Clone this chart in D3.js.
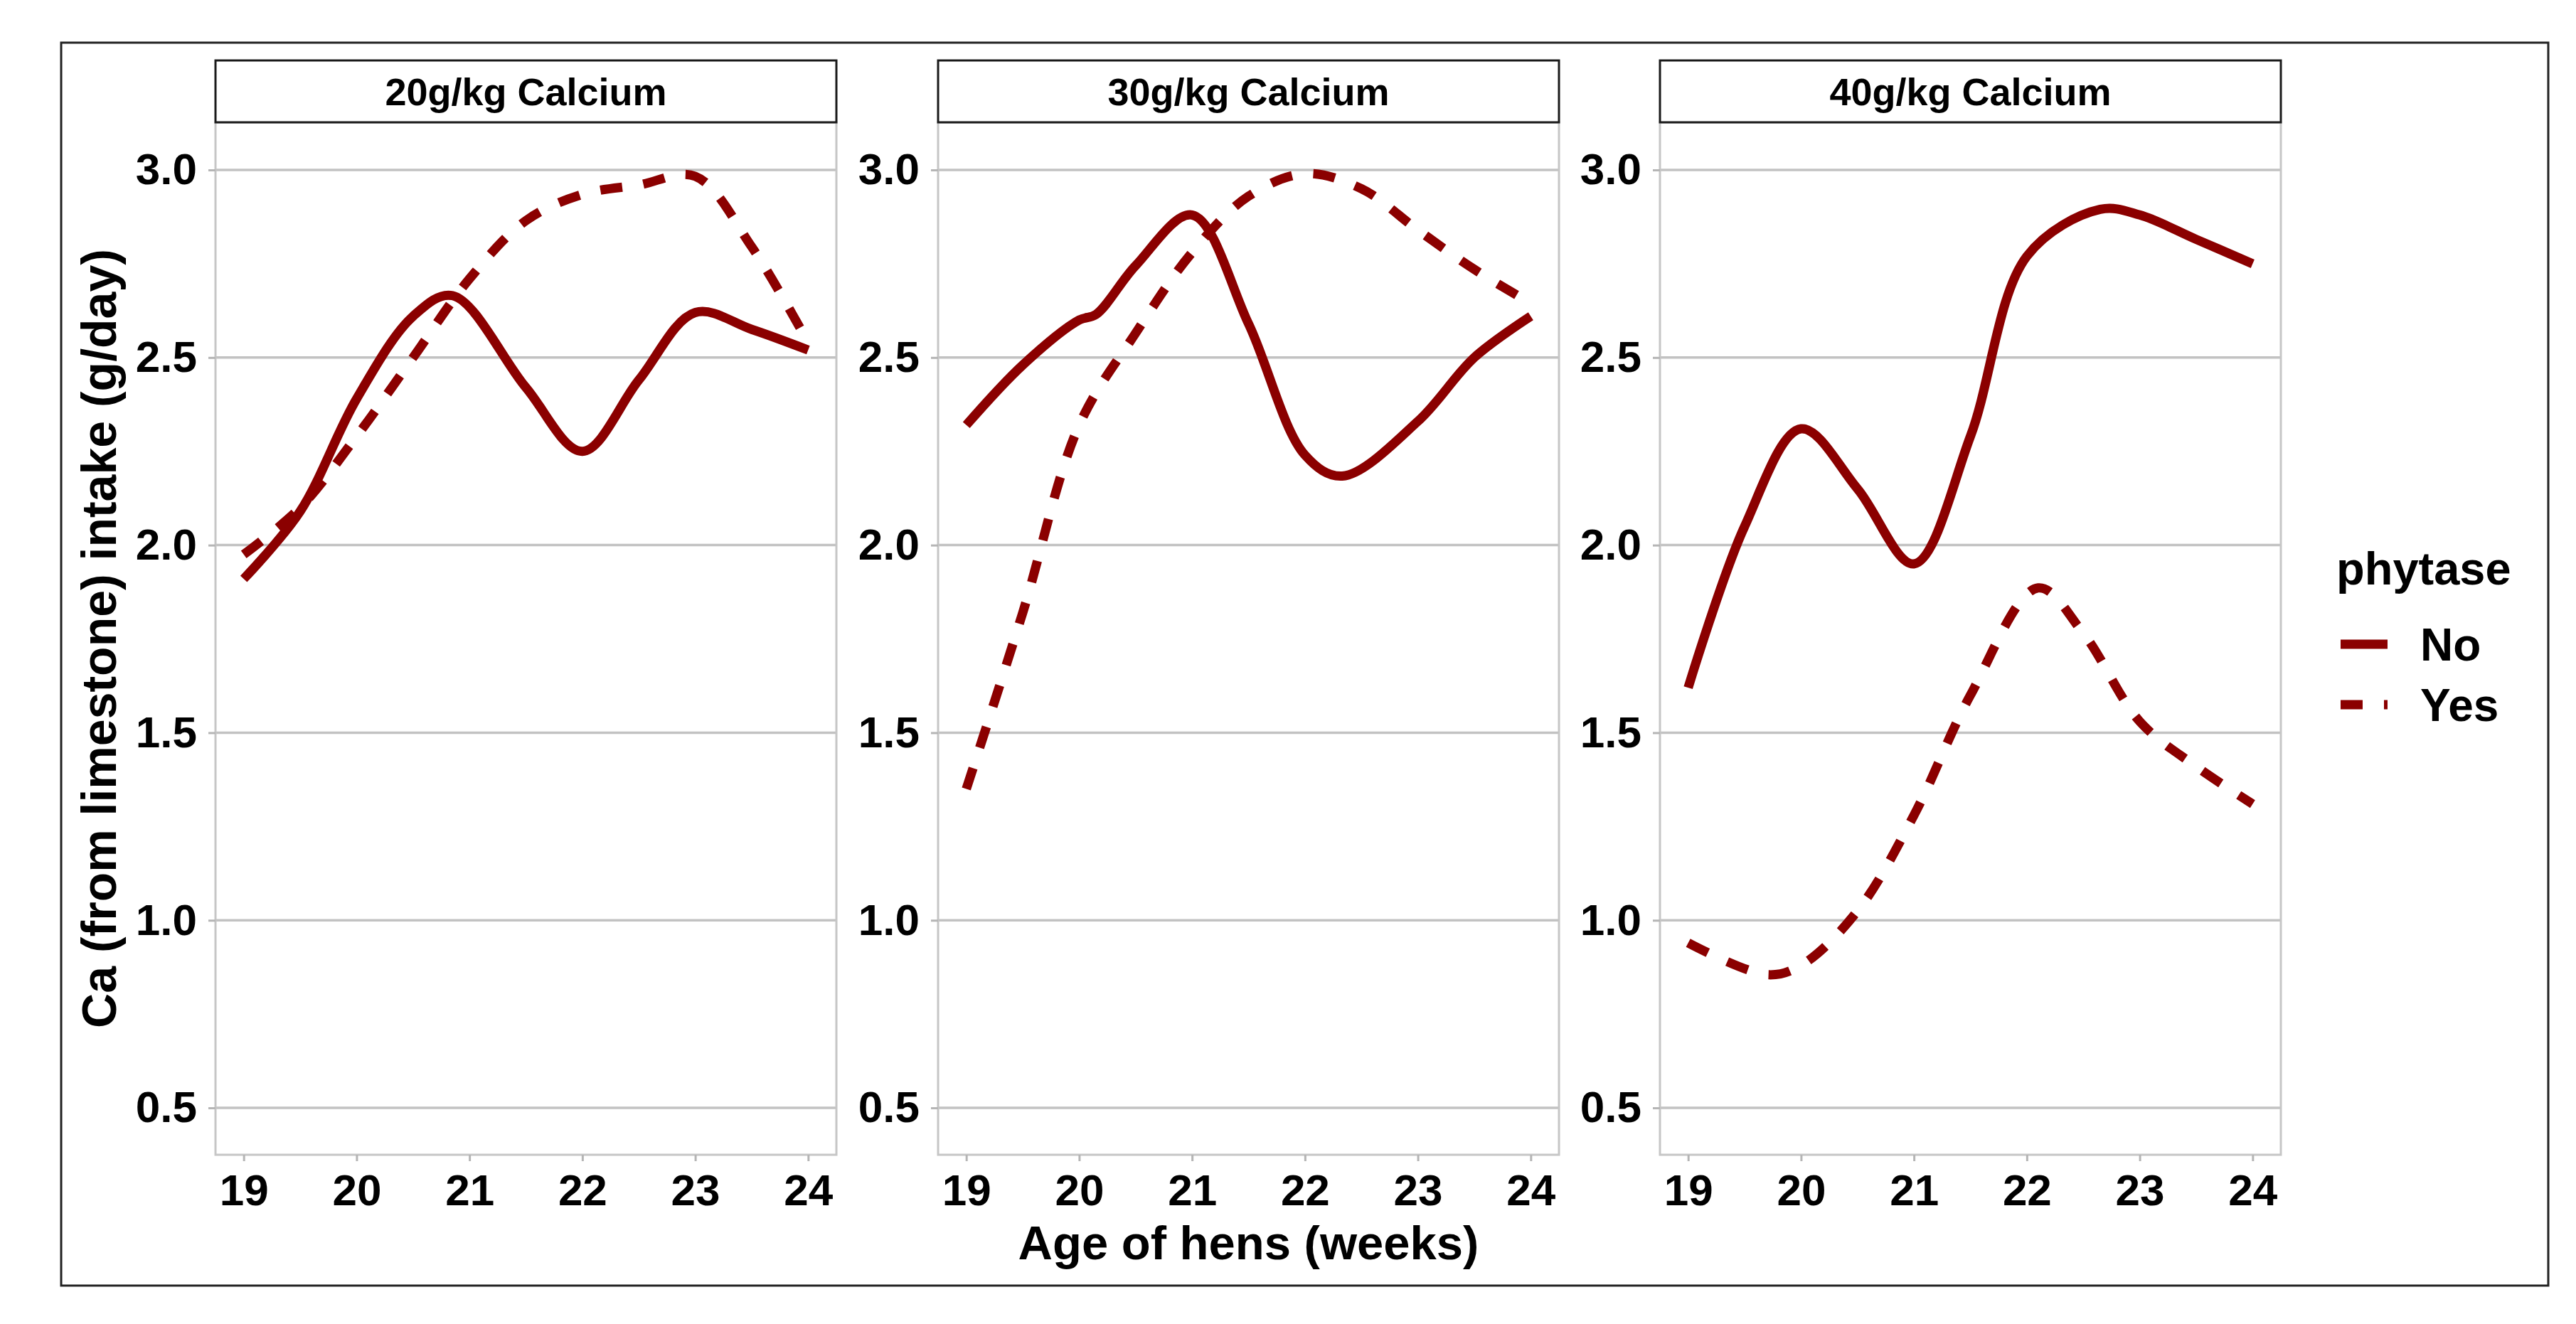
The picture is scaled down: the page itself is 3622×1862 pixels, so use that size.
<!DOCTYPE html>
<html>
<head>
<meta charset="utf-8">
<script src="https://cdn.jsdelivr.net/npm/d3@7"></script>
<style>
  body { margin: 0; background: #fff; }
  text { font-family: "Liberation Sans", Arial, sans-serif; font-weight: bold; fill: #000; }
</style>
</head>
<body>
<script>
// facet labels, legend levels and axis ticks
var panels  = ["20g/kg Calcium", "30g/kg Calcium", "40g/kg Calcium"];
var phytase = ["No", "Yes"];
var x_ticks = [19, 20, 21, 22, 23, 24];
var y_ticks = [0.5, 1.0, 1.5, 2.0, 2.5, 3.0];

// [week, Ca intake g/day]
var ca20_no  = [[19,1.91],[19.5,2.09],[20,2.39],[20.5,2.61],[20.85,2.665],[21.5,2.42],[22,2.25],[22.5,2.44],[23,2.62],[23.5,2.575],[24,2.52]];
var ca20_yes = [[19,1.975],[19.5,2.10],[20,2.29],[20.5,2.50],[21,2.71],[21.5,2.865],[22,2.935],[22.5,2.96],[23,2.983],[23.5,2.795],[24,2.54]];
var ca30_no  = [[19,2.32],[19.5,2.48],[20,2.60],[20.15,2.615],[20.5,2.745],[21,2.88],[21.5,2.59],[22,2.24],[22.33,2.184],[23,2.33],[23.5,2.50],[24,2.61]];
var ca30_yes = [[19,1.35],[19.5,1.82],[20,2.32],[20.5,2.565],[21,2.78],[21.5,2.93],[22,2.99],[22.5,2.95],[23,2.84],[23.5,2.735],[24,2.645]];
var ca40_no  = [[19,1.62],[19.5,2.05],[20,2.31],[20.5,2.15],[21,1.95],[21.5,2.29],[22,2.77],[22.65,2.895],[23,2.88],[23.5,2.815],[24,2.75]];
var ca40_yes = [[19,0.94],[19.7,0.855],[20,0.88],[20.5,1.025],[21,1.28],[21.5,1.60],[22.1,1.886],[22.5,1.765],[23,1.53],[23.5,1.41],[24,1.31]];

var series = [[ca20_no, ca20_yes], [ca30_no, ca30_yes], [ca40_no, ca40_yes]];

(function() {

var width = 3622, height = 1862,
    p_left = [303, 1319, 2334], p_w = 873,
    p_top = 172, p_bot = 1624,
    strip_top = 85,
    red = "#8b0000",
    dash = "31,30",
    svg;

svg = d3.select("body").append("svg")
  .attr("width", width)
  .attr("height", height);

svg.append("rect")
  .attr("width", width).attr("height", height)
  .attr("fill", "#fff");

// outer frame
svg.append("rect")
  .attr("x", 86).attr("y", 60)
  .attr("width", 3583 - 86).attr("height", 1808 - 60)
  .attr("fill", "none")
  .attr("stroke", "#222")
  .attr("stroke-width", 3);

var y = d3.scaleLinear().domain([0.375, 3.127]).range([p_bot, p_top]);

var line = d3.line().curve(d3.curveCatmullRom.alpha(0.5));

panels.forEach(function(name, i) {
  var x = d3.scaleLinear().domain([18.75, 24.25]).range([p_left[i], p_left[i] + p_w]),
      g = svg.append("g");

  line.x(function(d) { return x(d[0]); })
      .y(function(d) { return y(d[1]); });

  // grid
  g.selectAll("line.grid")
    .data(y_ticks)
    .enter().append("line")
      .attr("class", "grid")
      .attr("x1", p_left[i]).attr("x2", p_left[i] + p_w)
      .attr("y1", function(d) { return y(d); })
      .attr("y2", function(d) { return y(d); })
      .attr("stroke", "#c2c2c2")
      .attr("stroke-width", 3.5);

  // panel border
  g.append("rect")
    .attr("x", p_left[i]).attr("y", p_top)
    .attr("width", p_w).attr("height", p_bot - p_top)
    .attr("fill", "none")
    .attr("stroke", "#c6c6c6")
    .attr("stroke-width", 3);

  // strip
  g.append("rect")
    .attr("x", p_left[i]).attr("y", strip_top)
    .attr("width", p_w).attr("height", p_top - strip_top)
    .attr("fill", "#fff")
    .attr("stroke", "#1a1a1a")
    .attr("stroke-width", 3);
  g.append("text")
    .attr("x", p_left[i] + p_w / 2)
    .attr("y", (strip_top + p_top) / 2)
    .attr("dy", "0.36em")
    .attr("text-anchor", "middle")
    .style("font-size", "54px")
    .text(name);

  // axes
  var ya = g.append("g")
    .attr("transform", "translate(" + p_left[i] + ",0)")
    .call(d3.axisLeft(y).tickValues(y_ticks).tickFormat(d3.format(".1f")).tickSize(10).tickPadding(16));
  var xa = g.append("g")
    .attr("transform", "translate(0," + p_bot + ")")
    .call(d3.axisBottom(x).tickValues(x_ticks).tickFormat(d3.format("d")).tickSize(9).tickPadding(18));

  [ya, xa].forEach(function(a) {
    a.select(".domain").remove();
    a.selectAll(".tick line").attr("stroke", "#b5b5b5").attr("stroke-width", 3);
    a.selectAll(".tick text")
      .attr("fill", "#000")
      .style("font-size", "62px")
      .style("font-family", "'Liberation Sans', Arial, sans-serif")
      .style("font-weight", "bold");
  });

  // curves
  series[i].forEach(function(s, k) {
    g.append("path")
      .datum(s)
      .attr("d", line)
      .attr("fill", "none")
      .attr("stroke", red)
      .attr("stroke-width", 13)
      .attr("stroke-dasharray", k === 1 ? dash : null);
  });
});

// axis titles
svg.append("text")
  .attr("x", p_left[1] + p_w / 2)
  .attr("y", 1771)
  .attr("text-anchor", "middle")
  .style("font-size", "67px")
  .text("Age of hens (weeks)");

svg.append("text")
  .attr("transform", "translate(163," + (p_top + p_bot) / 2 + ") rotate(-90)")
  .attr("text-anchor", "middle")
  .style("font-size", "68px")
  .text("Ca (from limestone) intake (g/day)");

// legend
var leg = svg.append("g");
leg.append("text")
  .attr("x", 3285).attr("y", 822)
  .style("font-size", "65px")
  .text("phytase");

leg.selectAll("g.key")
  .data(phytase)
  .enter().append("g")
    .attr("class", "key")
    .attr("transform", function(d, k) { return "translate(0," + (906 + k * 85) + ")"; })
    .each(function(d, k) {
      var kg = d3.select(this);
      kg.append("line")
        .attr("x1", 3291).attr("x2", 3357)
        .attr("stroke", red)
        .attr("stroke-width", 13)
        .attr("stroke-dasharray", k === 1 ? dash : null);
      kg.append("text")
        .attr("x", 3403)
        .attr("dy", "0.36em")
        .style("font-size", "64px")
        .text(d);
    });

})();
</script>
</body>
</html>
